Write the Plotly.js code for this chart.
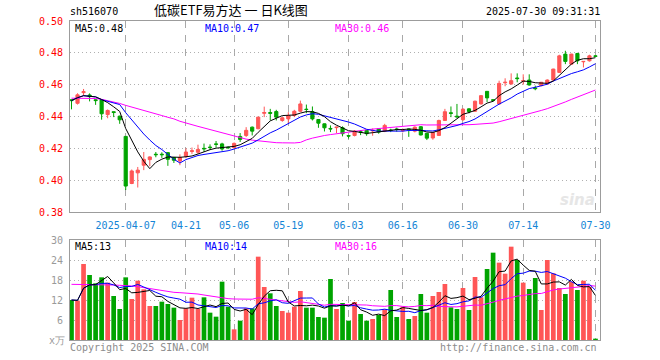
<!DOCTYPE html>
<html>
<head>
<meta charset="utf-8">
<script src="https://cdn.plot.ly/plotly-3.0.1.min.js"></script>
<style>
html,body{margin:0;padding:0;background:#fff;}
#chart{width:660px;height:360px;}
</style>
</head>
<body>
<div id="chart"></div>
<script>
// ---------- data ----------
const dates = [
"2025-03-24","2025-03-25","2025-03-26","2025-03-27","2025-03-28","2025-03-31",
"2025-04-01","2025-04-02","2025-04-03","2025-04-07","2025-04-08","2025-04-09","2025-04-10","2025-04-11",
"2025-04-14","2025-04-15","2025-04-16","2025-04-17","2025-04-18",
"2025-04-21","2025-04-22","2025-04-23","2025-04-24","2025-04-25",
"2025-04-28","2025-04-29","2025-04-30",
"2025-05-06","2025-05-07","2025-05-08","2025-05-09",
"2025-05-12","2025-05-13","2025-05-14","2025-05-15","2025-05-16",
"2025-05-19","2025-05-20","2025-05-21","2025-05-22","2025-05-23",
"2025-05-26","2025-05-27","2025-05-28","2025-05-29","2025-05-30",
"2025-06-03","2025-06-04","2025-06-05","2025-06-06",
"2025-06-09","2025-06-10","2025-06-11","2025-06-12","2025-06-13",
"2025-06-16","2025-06-17","2025-06-18","2025-06-19","2025-06-20",
"2025-06-23","2025-06-24","2025-06-25","2025-06-26","2025-06-27",
"2025-06-30","2025-07-01","2025-07-02","2025-07-03","2025-07-04",
"2025-07-07","2025-07-08","2025-07-09","2025-07-10","2025-07-11",
"2025-07-14","2025-07-15","2025-07-16","2025-07-17","2025-07-18",
"2025-07-21","2025-07-22","2025-07-23","2025-07-24","2025-07-25",
"2025-07-28","2025-07-29","2025-07-30"];

const open = [0.4505,0.4483,0.4550,0.4535,0.4505,0.4505,0.4412,0.4430,0.4402,0.4275,
0.3979,0.4046,0.4094,0.4129,0.4163,0.4163,0.4173,0.4142,0.4120,0.4150,
0.4180,0.4175,0.4200,0.4208,0.4228,0.4228,0.4206,0.4204,0.4275,0.4281,
0.4333,0.4323,0.4420,0.4425,0.4431,0.4375,0.4385,0.4406,0.4433,0.4446,
0.4431,0.4381,0.4354,0.4325,0.4330,0.4329,0.4280,0.4281,0.4304,0.4313,
0.4310,0.4323,0.4308,0.4315,0.4321,0.4311,0.4321,0.4308,0.4336,0.4294,
0.4265,0.4281,0.4375,0.4423,0.4402,0.4380,0.4448,0.4433,0.4479,0.4558,
0.4505,0.4479,0.4612,0.4604,0.4642,0.4622,0.4629,0.4579,0.4594,0.4604,
0.4629,0.4677,0.4792,0.4729,0.4796,0.4744,0.4750,0.4781];
const high = [0.4508,0.4546,0.4573,0.4545,0.4508,0.4508,0.4444,0.4432,0.4405,0.4275,
0.4067,0.4083,0.4177,0.4150,0.4177,0.4175,0.4177,0.4145,0.4162,0.4200,
0.4205,0.4223,0.4230,0.4225,0.4246,0.4235,0.4212,0.4237,0.4296,0.4333,
0.4337,0.4398,0.4462,0.4448,0.4442,0.4396,0.4427,0.4442,0.4500,0.4475,
0.4463,0.4383,0.4356,0.4344,0.4335,0.4338,0.4282,0.4315,0.4315,0.4315,
0.4325,0.4327,0.4354,0.4323,0.4330,0.4325,0.4323,0.4338,0.4340,0.4296,
0.4302,0.4380,0.4448,0.4463,0.4479,0.4452,0.4452,0.4500,0.4535,0.4560,
0.4508,0.4625,0.4640,0.4671,0.4671,0.4665,0.4665,0.4594,0.4617,0.4633,
0.4700,0.4788,0.4813,0.4794,0.4800,0.4748,0.4788,0.4783];
const low = [0.4445,0.4475,0.4531,0.4495,0.4473,0.4380,0.4389,0.4396,0.4354,0.3938,
0.3975,0.3954,0.4063,0.4088,0.4144,0.4140,0.4090,0.4108,0.4094,0.4138,
0.4165,0.4165,0.4178,0.4190,0.4204,0.4185,0.4195,0.4198,0.4240,0.4271,
0.4281,0.4320,0.4396,0.4375,0.4375,0.4367,0.4354,0.4396,0.4427,0.4421,
0.4375,0.4329,0.4306,0.4302,0.4296,0.4275,0.4261,0.4275,0.4283,0.4279,
0.4279,0.4292,0.4302,0.4302,0.4305,0.4300,0.4272,0.4300,0.4281,0.4252,
0.4254,0.4278,0.4372,0.4396,0.4392,0.4372,0.4420,0.4430,0.4475,0.4490,
0.4495,0.4475,0.4590,0.4600,0.4615,0.4600,0.4594,0.4565,0.4590,0.4600,
0.4625,0.4675,0.4729,0.4725,0.4729,0.4708,0.4745,0.4775];
const close = [0.4500,0.4536,0.4556,0.4525,0.4500,0.4417,0.4438,0.4425,0.4379,0.3963,
0.4058,0.4063,0.4131,0.4146,0.4160,0.4160,0.4131,0.4125,0.4142,0.4177,
0.4185,0.4193,0.4197,0.4205,0.4225,0.4196,0.4204,0.4231,0.4256,0.4313,
0.4308,0.4396,0.4425,0.4420,0.4396,0.4392,0.4406,0.4433,0.4479,0.4444,
0.4385,0.4358,0.4329,0.4322,0.4333,0.4292,0.4277,0.4308,0.4301,0.4292,
0.4313,0.4302,0.4344,0.4312,0.4319,0.4313,0.4319,0.4333,0.4284,0.4264,
0.4300,0.4375,0.4430,0.4420,0.4398,0.4446,0.4431,0.4496,0.4531,0.4517,
0.4502,0.4608,0.4615,0.4625,0.4638,0.4625,0.4598,0.4575,0.4615,0.4629,
0.4698,0.4781,0.4746,0.4792,0.4750,0.4746,0.4781,0.4778];
// volume, in units of 10k (万)
const volume = [12.0,11.8,22.8,19.5,17.0,18.8,17.2,13.2,9.3,18.8,
12.3,17.8,15.2,10.2,10.2,11.5,10.8,9.7,6.0,9.5,
12.7,9.3,12.8,8.2,7.0,17.5,10.0,3.2,5.8,9.5,
9.5,25.0,15.9,14.0,10.2,8.7,8.2,10.0,14.7,9.7,
9.7,6.9,6.7,18.3,9.3,11.1,5.8,11.4,7.8,5.8,
6.3,7.5,9.2,15.0,6.9,10.0,6.3,7.2,13.8,8.2,
13.2,14.4,16.8,9.8,9.3,15.6,9.0,18.9,12.8,21.3,
26.2,23.2,19.9,28.0,24.0,17.2,15.3,18.6,9.0,24.0,
20.0,15.6,13.8,17.5,15.0,17.8,16.0,0.4];
// MA30 values for the first 30 sessions (window starts before the chart)
const ma30PriceHead = [0.4515,0.4515,0.4515,0.4515,0.4513,0.4508,0.4500,0.4492,0.4482,0.4470,
0.4460,0.4450,0.4440,0.4428,0.4418,0.4406,0.4395,0.4385,0.4370,0.4358,
0.4348,0.4338,0.4328,0.4318,0.4307,0.4297,0.4285,0.4275,0.4265,0.4255];
const ma30VolHead = [16.7,16.7,16.6,16.6,16.6,16.6,16.5,16.5,16.4,16.4,
16.2,16.0,15.7,15.4,15.1,14.8,14.5,14.3,14.2,14.1,
14.0,13.8,13.5,13.2,12.9,12.5,12.4,12.3,12.3,12.3];

const tickDates  = ["2025-04-07","2025-04-21","2025-05-06","2025-05-19","2025-06-03","2025-06-16","2025-06-30","2025-07-14","2025-07-30"];
const tickLabels = ["2025-04-07","04-21","05-06","05-19","06-03","06-16","06-30","07-14","07-30"];
const priceTicks = [0.38,0.40,0.42,0.44,0.46,0.48,0.50];
const priceTickText = ["0.38","0.40","0.42","0.44","0.46","0.48","0.50"];
const volTicks = [6,12,18,24,30];
const volTickText = ["6","12","18","24","30"];

const symbol = "sh516070";
const titleText = "低碳ETF易方达 一 日K线图";
const stamp = "2025-07-30 09:31:31";
const priceMALabels = ["MA5:0.48","MA10:0.47","MA30:0.46"];
const volMALabels = ["MA5:13","MA10:14","MA30:16"];

// ---------- helpers ----------
function movingAvg(arr, n, head) {
  return arr.map((v, i) => {
    if (i < n - 1) {
      if (head) return head[i];
      let s = 0; for (let k = 0; k <= i; k++) s += arr[k];
      return s / (i + 1);
    }
    let s = 0; for (let k = i - n + 1; k <= i; k++) s += arr[k];
    return s / n;
  });
}

const RED = '#ff5656', GREEN = '#00a400';
const MONO = 'DejaVu Sans Mono, monospace';
const L = 70, R = 600, T = 21, B = 340;
const px = x => (x - L) / (R - L);
const py = y => (B - y) / (B - T);

const volColors = close.map((c, i) => c >= open[i] ? RED : GREEN);

const traces = [
  {type:'candlestick', x:dates, open:open, high:high, low:low, close:close,
   xaxis:'x', yaxis:'y',
   increasing:{line:{color:RED,width:1}, fillcolor:RED},
   decreasing:{line:{color:GREEN,width:1}, fillcolor:GREEN},
   whiskerwidth:0, hoverinfo:'skip', showlegend:false},
  {type:'scatter', mode:'lines', x:dates, y:movingAvg(close,30,ma30PriceHead), xaxis:'x', yaxis:'y',
   line:{color:'#ff00ff',width:1}, hoverinfo:'skip', showlegend:false},
  {type:'scatter', mode:'lines', x:dates, y:movingAvg(close,10), xaxis:'x', yaxis:'y',
   line:{color:'#0000ff',width:1}, hoverinfo:'skip', showlegend:false},
  {type:'scatter', mode:'lines', x:dates, y:movingAvg(close,5), xaxis:'x', yaxis:'y',
   line:{color:'#000000',width:1}, hoverinfo:'skip', showlegend:false},
  {type:'bar', x:dates, y:volume, xaxis:'x2', yaxis:'y2', marker:{color:volColors, line:{width:0}},
   hoverinfo:'skip', showlegend:false},
  {type:'scatter', mode:'lines', x:dates, y:movingAvg(volume,30,ma30VolHead), xaxis:'x2', yaxis:'y2',
   line:{color:'#ff00ff',width:1}, hoverinfo:'skip', showlegend:false},
  {type:'scatter', mode:'lines', x:dates, y:movingAvg(volume,10), xaxis:'x2', yaxis:'y2',
   line:{color:'#0000ff',width:1}, hoverinfo:'skip', showlegend:false},
  {type:'scatter', mode:'lines', x:dates, y:movingAvg(volume,5), xaxis:'x2', yaxis:'y2',
   line:{color:'#000000',width:1}, hoverinfo:'skip', showlegend:false}
];

const xCommon = {
  type:'category', range:[-0.25, 87.75], tickmode:'array', tickvals:tickDates,
  showgrid:true, gridcolor:'#a8a8a8', gridwidth:1, griddash:'7px,7px',
  showline:true, mirror:true, linecolor:'#9c9c9c', linewidth:1,
  ticks:'', zeroline:false, fixedrange:true
};

const ann = (x, y, text, color, xanchor, size, family) => ({
  xref:'paper', yref:'paper', x:px(x), y:py(y), text:text, showarrow:false,
  xanchor:xanchor||'left', yanchor:'middle', borderpad:0,
  font:{family:family||MONO, size:size||10, color:color||'#000'}
});

const layout = {
  width:660, height:360,
  margin:{l:L, r:660-R, t:T, b:360-B, pad:0},
  paper_bgcolor:'#fff', plot_bgcolor:'#fff',
  showlegend:false, bargap:0.22, boxgap:0.25,
  xaxis:Object.assign({}, xCommon, {anchor:'y', domain:[0,1], ticktext:tickLabels, showticklabels:true,
    tickfont:{family:MONO, size:10, color:'#1385d6'}, rangeslider:{visible:false}, ticklabelstandoff:4}),
  xaxis2:Object.assign({}, xCommon, {anchor:'y2', domain:[0,1], showticklabels:false}),
  yaxis:{domain:[py(212),1], range:[0.38,0.50], tickmode:'array', tickvals:priceTicks, ticktext:priceTickText,
    tickfont:{family:MONO, size:10, color:'#ff0000'}, showgrid:true, gridcolor:'#b0b0b0', griddash:'1px,3px',
    showline:true, mirror:true, linecolor:'#9c9c9c', linewidth:1, ticks:'', zeroline:false, fixedrange:true,
    ticklabelstandoff:4},
  yaxis2:{domain:[0,py(240)], range:[0,30], tickmode:'array', tickvals:volTicks, ticktext:volTickText,
    tickfont:{family:MONO, size:10, color:'#9a9a9a'}, showgrid:true, gridcolor:'#b0b0b0', griddash:'1px,3px',
    showline:true, mirror:true, linecolor:'#9c9c9c', linewidth:1, ticks:'', zeroline:false, fixedrange:true,
    ticklabelstandoff:4},
  annotations:[
    ann(69, 11, symbol, '#000', 'left', 10),
    ann(231, 10, titleText, '#000', 'center', 13, 'Noto Sans CJK SC'),
    ann(601, 11, stamp, '#000', 'right', 10),
    ann(74, 28, priceMALabels[0], '#000'),
    ann(204, 28, priceMALabels[1], '#0000ff'),
    ann(334, 28, priceMALabels[2], '#ff00ff'),
    ann(74, 246, volMALabels[0], '#000'),
    ann(204, 246, volMALabels[1], '#0000ff'),
    ann(334, 246, volMALabels[2], '#ff00ff'),
    ann(66, 340, 'x万', '#9a9a9a', 'right', 10),
    ann(69, 347, 'Copyright 2025 SINA.COM', '#8c8c8c', 'left', 10),
    ann(598, 347, 'http://finance.sina.com.cn', '#8c8c8c', 'right', 10),
    {xref:'paper', yref:'paper', x:px(597), y:py(200), xanchor:'right', yanchor:'middle', showarrow:false,
     text:'<i><b>sina</b></i>', font:{family:'DejaVu Sans', size:15, color:'#e6e6e6'}}
  ]
};

Plotly.newPlot('chart', traces, layout, {staticPlot:true, displayModeBar:false});
</script>
</body>
</html>
